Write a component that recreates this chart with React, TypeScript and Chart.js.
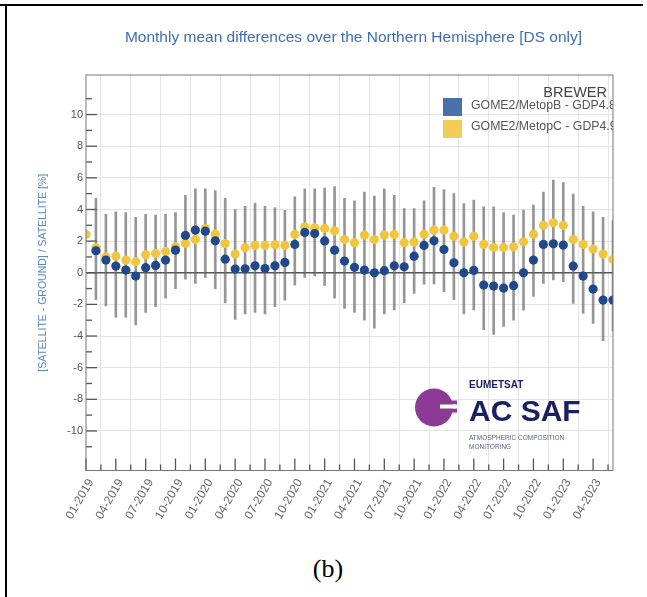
import React, { useEffect, useRef } from 'react';
import { Chart, registerables } from 'chart.js';

Chart.register(...registerables);

const TITLE = 'Monthly mean differences over the Northern Hemisphere [DS only]';
const Y_TITLE = '[SATELLITE - GROUND] / SATELLITE [%]';
const LEGEND_TITLE = 'BREWER';
const SERIES_B = 'GOME2/MetopB - GDP4.8';
const SERIES_C = 'GOME2/MetopC - GDP4.9';

// month index 0 = 01-2019 ... 53 = 06-2023
const MONTH_TICKS = [0, 3, 6, 9, 12, 15, 18, 21, 24, 27, 30, 33, 36, 39, 42, 45, 48, 51];
const MONTH_LABELS = [
  '01-2019', '04-2019', '07-2019', '10-2019',
  '01-2020', '04-2020', '07-2020', '10-2020',
  '01-2021', '04-2021', '07-2021', '10-2021',
  '01-2022', '04-2022', '07-2022', '10-2022',
  '01-2023', '04-2023',
];
const MONTH_MINOR = [1.5, 4.5, 7.5, 10.5, 13.5, 16.5, 19.5, 22.5, 25.5, 28.5, 31.5, 34.5, 37.5, 40.5, 43.5, 46.5, 49.5, 52.5];
const Y_TICKS = [-10, -8, -6, -4, -2, 0, 2, 4, 6, 8, 10];
const Y_MINOR = [-11, -9, -7, -5, -3, -1, 1, 3, 5, 7, 9, 11];

const METOPB: (number | null)[] = [
  null, 1.39, 0.80, 0.42, 0.17, -0.21, 0.32, 0.46, 0.80, 1.43,
  2.36, 2.70, 2.63, 2.02, 0.86, 0.23, 0.25, 0.44, 0.27, 0.44,
  0.65, 1.79, 2.55, 2.48, 2.01, 1.43, 0.74, 0.34, 0.17, 0.00,
  0.13, 0.44, 0.38, 1.05, 1.73, 2.02, 1.47, 0.63, 0.00, 0.15,
  -0.78, -0.84, -0.97, -0.82, 0.00, 0.80, 1.79, 1.83, 1.75, 0.42,
  -0.21, -1.03, -1.73, -1.73,
];
const METOPC: (number | null)[] = [
  2.42, 1.58, 1.00, 1.05, 0.80, 0.70, 1.14, 1.22, 1.35, 1.64,
  1.85, 2.10, 2.80, 2.44, 1.85, 1.18, 1.58, 1.73, 1.73, 1.77,
  1.73, 2.42, 2.90, 2.84, 2.80, 2.65, 2.10, 1.90, 2.38, 2.10,
  2.38, 2.42, 1.90, 1.94, 2.44, 2.70, 2.70, 2.30, 1.94, 2.30,
  1.79, 1.60, 1.60, 1.64, 1.96, 2.44, 3.00, 3.16, 3.00, 2.10,
  1.79, 1.50, 1.18, 0.84,
];
const ERR_HIGH: (number | null)[] = [
  null, 4.70, 3.70, 3.85, 3.80, 3.50, 3.70, 3.65, 3.70, 3.80,
  4.90, 5.30, 5.30, 5.20, 4.70, 4.00, 4.20, 4.40, 4.20, 4.10,
  3.95, 4.80, 5.30, 5.30, 5.35, 5.45, 4.70, 4.55, 5.10, 4.85,
  5.30, 4.90, 4.06, 4.06, 4.55, 5.40, 5.26, 5.00, 4.38, 4.60,
  4.17, 4.17, 3.80, 3.65, 3.96, 4.27, 5.10, 5.85, 5.70, 4.97,
  4.20, 3.85, 3.50, 3.30,
];
const ERR_LOW: (number | null)[] = [
  null, -1.70, -2.10, -2.80, -2.80, -3.30, -2.50, -2.15, -1.60, -1.00,
  -0.40, -0.67, -0.30, -1.00, -1.90, -2.95, -2.60, -2.50, -2.60, -2.15,
  -1.73, -0.78, -0.30, -0.20, -0.80, -1.60, -2.25, -2.50, -3.00, -3.50,
  -2.60, -2.35, -1.90, -1.30, -0.72, -0.70, -1.20, -1.70, -2.60, -2.35,
  -3.60, -3.90, -3.40, -3.00, -2.36, -1.50, -0.67, -0.46, -0.57, -1.94,
  -2.57, -3.20, -4.30, -3.70,
];

const CANVAS_W = 647;
const CANVAS_H = 540;

const decor = {
  id: 'decor',
  beforeDatasetsDraw(chart: any) {
    const { ctx, chartArea: a, scales } = chart;
    const x = scales.x;
    const y = scales.y;
    ctx.save();
    ctx.strokeStyle = '#555';
    ctx.lineWidth = 1.3;
    const seg = (x1: number, y1: number, x2: number, y2: number) => {
      ctx.beginPath();
      ctx.moveTo(x1, y1);
      ctx.lineTo(x2, y2);
      ctx.stroke();
    };
    for (const v of Y_TICKS) {
      const py = y.getPixelForValue(v);
      seg(a.left, py, a.left + 11, py);
    }
    for (const v of Y_MINOR) {
      const py = y.getPixelForValue(v);
      seg(a.left, py, a.left + 6, py);
    }
    for (const v of MONTH_TICKS) {
      const px = x.getPixelForValue(v);
      seg(px, a.bottom, px, a.bottom - 12);
    }
    for (const v of MONTH_MINOR) {
      const px = x.getPixelForValue(v);
      seg(px, a.bottom, px, a.bottom - 6);
    }

    // AC SAF logo
    const cx = a.right - 179;
    const cy = a.bottom - 63;
    ctx.fillStyle = '#8b3b95';
    ctx.beginPath();
    ctx.arc(cx, cy, 19, 0, Math.PI * 2);
    ctx.fill();
    ctx.fillRect(cx + 8, cy - 7, 15, 4);
    ctx.fillRect(cx + 8, cy + 1, 15, 4);
    ctx.fillStyle = '#ffffff';
    ctx.fillRect(cx + 6, cy - 3, 16, 4);
    const tx = a.right - 144;
    ctx.fillStyle = '#1b2060';
    ctx.textAlign = 'left';
    ctx.textBaseline = 'middle';
    ctx.font = 'bold 10px "Liberation Sans", Arial, sans-serif';
    ctx.fillText('EUMETSAT', tx, a.bottom - 85);
    ctx.textBaseline = 'alphabetic';
    ctx.font = 'bold 30px "Liberation Sans", Arial, sans-serif';
    ctx.fillText('AC SAF', tx, a.bottom - 50);
    ctx.textBaseline = 'middle';
    ctx.fillStyle = '#5a5f8a';
    ctx.font = '6.5px "Liberation Sans", Arial, sans-serif';
    ctx.fillText('ATMOSPHERIC COMPOSITION', tx, a.bottom - 32);
    ctx.fillText('MONITORING', tx, a.bottom - 23);
    ctx.restore();
  },
  afterDraw(chart: any) {
    const { ctx, chartArea: a } = chart;
    ctx.save();
    // plot frame
    ctx.strokeStyle = '#777';
    ctx.lineWidth = 1;
    ctx.strokeRect(a.left, a.top, a.right - a.left, a.bottom - a.top);

    // title
    ctx.fillStyle = '#3f6db0';
    ctx.font = '15.5px "Liberation Sans", Arial, sans-serif';
    ctx.textAlign = 'center';
    ctx.textBaseline = 'middle';
    ctx.fillText(TITLE, (a.left + a.right) / 2 + 4, a.top - 37);

    // legend (clipped to the plot)
    ctx.beginPath();
    ctx.rect(a.left, a.top, a.right - a.left, a.bottom - a.top);
    ctx.clip();
    ctx.fillStyle = '#444';
    ctx.font = '14.5px "Liberation Sans", Arial, sans-serif';
    ctx.textAlign = 'right';
    ctx.fillText(LEGEND_TITLE, a.right - 6, a.top + 18);
    const sx = a.right - 170;
    ctx.fillStyle = '#4a70ac';
    ctx.fillRect(sx, a.top + 23, 19, 18);
    ctx.fillStyle = '#f2cc55';
    ctx.fillRect(sx, a.top + 45, 19, 18);
    ctx.fillStyle = '#555';
    ctx.font = '12.3px "Liberation Sans", Arial, sans-serif';
    ctx.textAlign = 'left';
    ctx.fillText(SERIES_B, a.right - 142, a.top + 31);
    ctx.fillText(SERIES_C, a.right - 142, a.top + 52);
    ctx.restore();
  },
};

export default function App() {
  const ref = useRef<HTMLCanvasElement | null>(null);

  useEffect(() => {
    if (!ref.current) return;
    Chart.defaults.font.family = '"Liberation Sans", Arial, sans-serif';
    const errData: any[] = [];
    ERR_HIGH.forEach((h, i) => {
      const l = ERR_LOW[i];
      if (h != null && l != null) errData.push({ x: i, y: [l, h] });
    });
    const chart = new Chart(ref.current, {
      type: 'scatter',
      data: {
        datasets: [
          {
            type: 'bar',
            label: 'spread',
            data: errData,
            backgroundColor: 'rgba(105,105,105,0.7)',
            barThickness: 2,
            grouped: false,
            order: 3,
          } as any,
          {
            label: SERIES_C,
            data: METOPC.map((v, i) => ({ x: i, y: v })),
            backgroundColor: '#f1c53e',
            borderWidth: 0,
            pointRadius: 4.6,
            order: 2,
          },
          {
            label: SERIES_B,
            data: METOPB.map((v, i) => ({ x: i, y: v })),
            backgroundColor: '#21488a',
            borderWidth: 0,
            pointRadius: 4.6,
            order: 1,
          },
        ],
      },
      options: {
        animation: false,
        responsive: false,
        events: [],
        layout: { padding: { left: 0, top: 75, right: CANVAS_W - 613, bottom: 0 } },
        plugins: {
          legend: { display: false },
          tooltip: { enabled: false },
          title: { display: false },
        },
        scales: {
          x: {
            type: 'linear',
            min: 0,
            max: 53,
            offset: false,
            afterBuildTicks: (s: any) => {
              s.ticks = MONTH_TICKS.map((v) => ({ value: v }));
            },
            afterFit: (s: any) => {
              s.height = CANVAS_H - 470.5;
            },
            grid: { color: '#e4e4e4', drawTicks: false, lineWidth: 1 },
            border: { display: false },
            ticks: {
              autoSkip: false,
              minRotation: 60,
              maxRotation: 60,
              color: '#666',
              padding: 6,
              labelOffset: 5,
              font: { size: 12 },
              callback: (v: any) => {
                const k = MONTH_TICKS.indexOf(Number(v));
                return k >= 0 ? MONTH_LABELS[k] : '';
              },
            },
          },
          y: {
            type: 'linear',
            min: -12.5,
            max: 12.5,
            afterBuildTicks: (s: any) => {
              s.ticks = Y_TICKS.map((v) => ({ value: v }));
            },
            afterFit: (s: any) => {
              s.width = 86;
            },
            grid: {
              color: (c: any) => (c.tick && c.tick.value === 0 ? '#555' : '#e4e4e4'),
              lineWidth: (c: any) => (c.tick && c.tick.value === 0 ? 1.5 : 1),
              drawTicks: false,
            },
            border: { display: false },
            ticks: { color: '#555', padding: 3, font: { size: 11 } },
            title: {
              display: true,
              text: Y_TITLE,
              color: '#5a87c5',
              font: { size: 10.5 },
              padding: { top: 37, bottom: 0 },
            },
          },
        },
      },
      plugins: [decor],
    } as any);
    return () => chart.destroy();
  }, []);

  return (
    <div style={{ position: 'absolute', left: 0, top: 0, width: 647, height: 597, background: '#fff', overflow: 'hidden' }}>
      <div style={{ position: 'absolute', left: 0, top: 4, width: 643, height: 2, background: '#000' }} />
      <div style={{ position: 'absolute', left: 5, top: 4, width: 2, height: 593, background: '#000' }} />
      <canvas ref={ref} width={CANVAS_W} height={CANVAS_H} style={{ position: 'absolute', left: 0, top: 0 }} />
      <div
        style={{
          position: 'absolute',
          left: 0,
          top: 556,
          width: 656,
          textAlign: 'center',
          fontFamily: '"Liberation Serif", "Times New Roman", serif',
          fontSize: 26,
          lineHeight: '26px',
          color: '#000',
        }}
      >
        (b)
      </div>
    </div>
  );
}
